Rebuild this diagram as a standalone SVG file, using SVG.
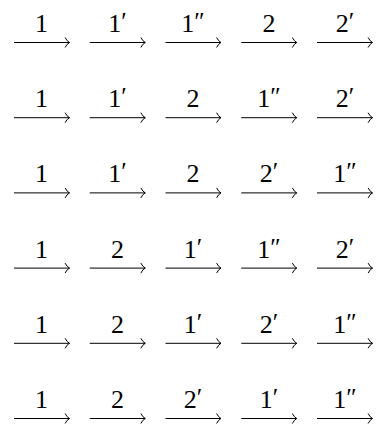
<svg xmlns="http://www.w3.org/2000/svg" width="376" height="430" viewBox="0 0 376 430">
<style>
.a{stroke:#000;stroke-width:1;fill:none}
.t{font-family:"Liberation Serif","DejaVu Serif",serif;font-size:26px;fill:#000;text-anchor:middle}
.p{font-size:25px}
</style>
<defs>
<marker id="h" markerUnits="userSpaceOnUse" markerWidth="10" markerHeight="14" refX="5" refY="5" orient="auto" overflow="visible">
<path d="M0.6,0 Q2.5,3.8 5,5 Q2.5,6.2 0.6,10" class="a"/>
</marker>
</defs>
<rect width="376" height="430" fill="#fff"/>
<g id="connectors">
<g id="row1-arrows">
<line class="a" x1="14" y1="42.5" x2="69.5" y2="42.5" marker-end="url(#h)"/>
<line class="a" x1="89.75" y1="42.5" x2="145.25" y2="42.5" marker-end="url(#h)"/>
<line class="a" x1="165.5" y1="42.5" x2="221" y2="42.5" marker-end="url(#h)"/>
<line class="a" x1="241.25" y1="42.5" x2="296.75" y2="42.5" marker-end="url(#h)"/>
<line class="a" x1="317" y1="42.5" x2="372.5" y2="42.5" marker-end="url(#h)"/>
</g>
<g id="row2-arrows">
<line class="a" x1="14" y1="117.7" x2="69.5" y2="117.7" marker-end="url(#h)"/>
<line class="a" x1="89.75" y1="117.7" x2="145.25" y2="117.7" marker-end="url(#h)"/>
<line class="a" x1="165.5" y1="117.7" x2="221" y2="117.7" marker-end="url(#h)"/>
<line class="a" x1="241.25" y1="117.7" x2="296.75" y2="117.7" marker-end="url(#h)"/>
<line class="a" x1="317" y1="117.7" x2="372.5" y2="117.7" marker-end="url(#h)"/>
</g>
<g id="row3-arrows">
<line class="a" x1="14" y1="192.9" x2="69.5" y2="192.9" marker-end="url(#h)"/>
<line class="a" x1="89.75" y1="192.9" x2="145.25" y2="192.9" marker-end="url(#h)"/>
<line class="a" x1="165.5" y1="192.9" x2="221" y2="192.9" marker-end="url(#h)"/>
<line class="a" x1="241.25" y1="192.9" x2="296.75" y2="192.9" marker-end="url(#h)"/>
<line class="a" x1="317" y1="192.9" x2="372.5" y2="192.9" marker-end="url(#h)"/>
</g>
<g id="row4-arrows">
<line class="a" x1="14" y1="268.1" x2="69.5" y2="268.1" marker-end="url(#h)"/>
<line class="a" x1="89.75" y1="268.1" x2="145.25" y2="268.1" marker-end="url(#h)"/>
<line class="a" x1="165.5" y1="268.1" x2="221" y2="268.1" marker-end="url(#h)"/>
<line class="a" x1="241.25" y1="268.1" x2="296.75" y2="268.1" marker-end="url(#h)"/>
<line class="a" x1="317" y1="268.1" x2="372.5" y2="268.1" marker-end="url(#h)"/>
</g>
<g id="row5-arrows">
<line class="a" x1="14" y1="343.3" x2="69.5" y2="343.3" marker-end="url(#h)"/>
<line class="a" x1="89.75" y1="343.3" x2="145.25" y2="343.3" marker-end="url(#h)"/>
<line class="a" x1="165.5" y1="343.3" x2="221" y2="343.3" marker-end="url(#h)"/>
<line class="a" x1="241.25" y1="343.3" x2="296.75" y2="343.3" marker-end="url(#h)"/>
<line class="a" x1="317" y1="343.3" x2="372.5" y2="343.3" marker-end="url(#h)"/>
</g>
<g id="row6-arrows">
<line class="a" x1="14" y1="418.5" x2="69.5" y2="418.5" marker-end="url(#h)"/>
<line class="a" x1="89.75" y1="418.5" x2="145.25" y2="418.5" marker-end="url(#h)"/>
<line class="a" x1="165.5" y1="418.5" x2="221" y2="418.5" marker-end="url(#h)"/>
<line class="a" x1="241.25" y1="418.5" x2="296.75" y2="418.5" marker-end="url(#h)"/>
<line class="a" x1="317" y1="418.5" x2="372.5" y2="418.5" marker-end="url(#h)"/>
</g>
</g>
<g id="labels" class="t">
<g id="row1-labels">
<text x="41.5" y="32">1</text>
<text x="117.5" y="32">1<tspan class="p" dy="-2">′</tspan></text>
<text x="193" y="32">1<tspan class="p" dy="-2">″</tspan></text>
<text x="269" y="32">2</text>
<text x="345" y="32">2<tspan class="p" dy="-2">′</tspan></text>
</g>
<g id="row2-labels">
<text x="41.5" y="107.2">1</text>
<text x="117.5" y="107.2">1<tspan class="p" dy="-2">′</tspan></text>
<text x="193" y="107.2">2</text>
<text x="269" y="107.2">1<tspan class="p" dy="-2">″</tspan></text>
<text x="345" y="107.2">2<tspan class="p" dy="-2">′</tspan></text>
</g>
<g id="row3-labels">
<text x="41.5" y="182.4">1</text>
<text x="117.5" y="182.4">1<tspan class="p" dy="-2">′</tspan></text>
<text x="193" y="182.4">2</text>
<text x="269" y="182.4">2<tspan class="p" dy="-2">′</tspan></text>
<text x="345" y="182.4">1<tspan class="p" dy="-2">″</tspan></text>
</g>
<g id="row4-labels">
<text x="41.5" y="257.6">1</text>
<text x="117.5" y="257.6">2</text>
<text x="193" y="257.6">1<tspan class="p" dy="-2">′</tspan></text>
<text x="269" y="257.6">1<tspan class="p" dy="-2">″</tspan></text>
<text x="345" y="257.6">2<tspan class="p" dy="-2">′</tspan></text>
</g>
<g id="row5-labels">
<text x="41.5" y="332.8">1</text>
<text x="117.5" y="332.8">2</text>
<text x="193" y="332.8">1<tspan class="p" dy="-2">′</tspan></text>
<text x="269" y="332.8">2<tspan class="p" dy="-2">′</tspan></text>
<text x="345" y="332.8">1<tspan class="p" dy="-2">″</tspan></text>
</g>
<g id="row6-labels">
<text x="41.5" y="408">1</text>
<text x="117.5" y="408">2</text>
<text x="193" y="408">2<tspan class="p" dy="-2">′</tspan></text>
<text x="269" y="408">1<tspan class="p" dy="-2">′</tspan></text>
<text x="345" y="408">1<tspan class="p" dy="-2">″</tspan></text>
</g>
</g>
</svg>
